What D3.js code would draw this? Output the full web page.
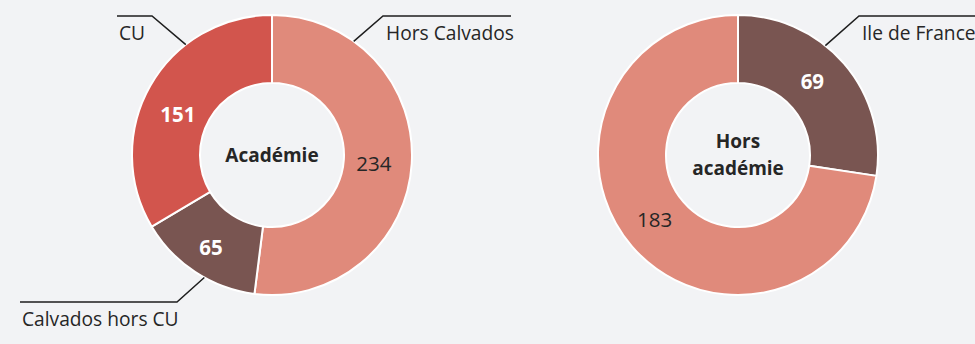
<!DOCTYPE html>
<html>
<head>
<meta charset="utf-8">
<script src="https://cdn.jsdelivr.net/npm/d3@7"></script>
<style>
  html, body { margin: 0; padding: 0; background: #f2f3f5; }
  svg { display: block; font-family: "Open Sans", sans-serif; }
</style>
</head>
<body>
<svg id="chart" width="975" height="344"></svg>
<script>
// Students by origin: the académie on the left, outside the académie on the right
const leftCategories = ["Hors Calvados", "Calvados hors CU", "CU"];
const leftValues = [234, 65, 151];
const leftTitle = ["Académie"];

const rightCategories = ["Ile de France", "Autres"];
const rightValues = [69, 183];
const rightTitle = ["Hors", "académie"];

const colorByCategory = {
  "Hors Calvados": "#e08a7b",
  "Calvados hors CU": "#795551",
  "CU": "#d2554d",
  "Ile de France": "#795551",
  "Autres": "#e08a7b"
};
// value labels printed in white bold on the darker slices
const lightLabel = new Set(["Calvados hors CU", "CU", "Ile de France"]);

// small nudges of the value labels away from the slice centroid (px)
const labelNudge = {
  "Hors Calvados": [-4, 2],
  "Calvados hors CU": [-3, 4],
  "CU": [-2, 12],
  "Ile de France": [-6, -4],
  "Autres": [-3, -5]
};

// callouts: anchor angle on the outer edge (deg), elbow offset from centre, horizontal run
const callouts = {
  "CU": { angle: 322, elbow: [-120, -139], run: -35 },
  "Hors Calvados": { angle: 35.7, elbow: [111, -139], run: 128 },
  "Calvados hors CU": { angle: 208.9, elbow: [-95, 147], run: -157 },
  "Ile de France": { angle: 38.6, elbow: [121, -139], run: 130 }
};

const svg = d3.select("#chart");
const outerR = 140, innerR = 72;

const pie = d3.pie().sort(null).value(d => d.value);
const arc = d3.arc().innerRadius(innerR).outerRadius(outerR);
const labelArc = d3.arc().innerRadius(106).outerRadius(106);

function donut(cx, cy, categories, values, title) {
  const data = categories.map((c, i) => ({ category: c, value: values[i] }));
  const g = svg.append("g").attr("transform", `translate(${cx},${cy})`);
  const arcs = pie(data);

  g.selectAll("path.slice").data(arcs).join("path")
    .attr("class", "slice")
    .attr("d", arc)
    .attr("fill", d => colorByCategory[d.data.category])
    .attr("stroke", "#ffffff")
    .attr("stroke-width", 2)
    .attr("stroke-linejoin", "round");

  g.selectAll("text.value").data(arcs).join("text")
    .attr("class", "value")
    .attr("transform", d => {
      const [x, y] = labelArc.centroid(d);
      const n = labelNudge[d.data.category] || [0, 0];
      return `translate(${x + n[0]},${y + n[1]})`;
    })
    .attr("text-anchor", "middle")
    .attr("dy", "0.36em")
    .attr("font-size", 20.5)
    .attr("font-weight", d => lightLabel.has(d.data.category) ? 700 : 400)
    .attr("fill", d => lightLabel.has(d.data.category) ? "#ffffff" : "#262626")
    .text(d => d.data.value);

  const lineH = 27;
  const t = g.append("text")
    .attr("text-anchor", "middle")
    .attr("font-size", 19)
    .attr("font-weight", 700)
    .attr("fill", "#262626");
  title.forEach((s, i) => {
    t.append("tspan")
      .attr("x", 0)
      .attr("y", (i - (title.length - 1) / 2) * lineH)
      .attr("dy", "0.36em")
      .text(s);
  });

  arcs.forEach(d => {
    const c = callouts[d.data.category];
    if (!c) return;
    const a = c.angle * Math.PI / 180;
    const p0 = [outerR * Math.sin(a), -outerR * Math.cos(a)];
    const p1 = c.elbow;
    const p2 = [p1[0] + c.run, p1[1]];
    g.append("path")
      .attr("d", d3.line()([p0, p1, p2]))
      .attr("fill", "none")
      .attr("stroke", "#1e1e1e")
      .attr("stroke-width", 1.5);
    const tx = c.run < 0 ? p2[0] + 2 : p1[0] + 3;
    g.append("text")
      .attr("x", tx)
      .attr("y", p1[1] + 17)
      .attr("dy", "0.36em")
      .attr("font-size", 19.2)
      .attr("fill", "#262626")
      .text(d.data.category);
  });
}

donut(272, 155, leftCategories, leftValues, leftTitle);
donut(738, 155, rightCategories, rightValues, rightTitle);
</script>
</body>
</html>
